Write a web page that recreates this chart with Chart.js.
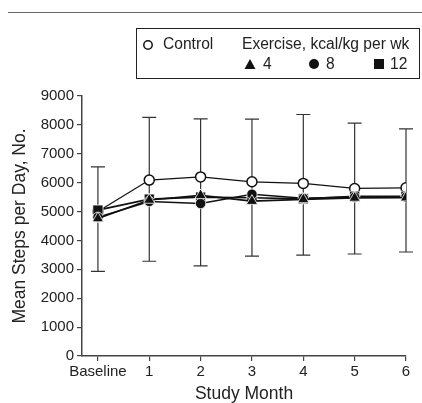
<!DOCTYPE html>
<html>
<head>
<meta charset="utf-8">
<script src="https://cdn.jsdelivr.net/npm/chart.js@4/dist/chart.umd.min.js"></script>
<style>
  body { margin: 0; background: #fff; font-family: "Liberation Sans", Arial, sans-serif; }
  .wrap { position: relative; width: 422px; height: 403px; }
  .rule { position: absolute; left: 8px; right: 0; top: 12px; height: 0; border-top: 1.5px solid #666; }
  .legend { position: absolute; left: 136px; top: 28px; width: 284px; height: 51px; border: 1px solid #222;
            box-sizing: border-box; font-size: 15.6px; color: #222; }
  .legend span { position: absolute; white-space: nowrap; line-height: 16px; }
  .legend svg { position: absolute; }
  canvas { position: absolute; left: 0; top: 0; }
</style>
</head>
<body>
<div class="wrap">
  <div class="rule"></div>
  <canvas id="chart" width="422" height="403"></canvas>
  <div class="legend">
    <svg style="left:5px;top:10px" width="12" height="12"><circle cx="6" cy="6" r="4.2" fill="#fff" stroke="#111" stroke-width="1.5"/></svg>
    <span style="left:26px;top:7px">Control</span>
    <span style="left:105px;top:7px">Exercise, kcal/kg per wk</span>
    <svg style="left:107px;top:29px" width="12" height="12"><polygon points="6,1 11.5,11 0.5,11" fill="#111"/></svg>
    <span style="left:126px;top:27px">4</span>
    <svg style="left:171px;top:29px" width="12" height="12"><circle cx="6" cy="6" r="5" fill="#111"/></svg>
    <span style="left:189px;top:27px">8</span>
    <svg style="left:236px;top:29px" width="12" height="12"><rect x="1" y="1" width="10" height="10" fill="#111"/></svg>
    <span style="left:253px;top:27px">12</span>
  </div>
</div>
<script>
const monthLabels = ['Baseline', '1', '2', '3', '4', '5', '6'];
const months = [0, 1, 2, 3, 4, 5, 6];
const controlSteps = [5000, 6090, 6200, 6030, 5975, 5800, 5820];
const ex4Steps = [4760, 5400, 5560, 5360, 5420, 5470, 5480];
const ex8Steps = [4800, 5350, 5280, 5600, 5460, 5500, 5500];
const ex12Steps = [5050, 5430, 5500, 5480, 5440, 5530, 5530];
const errHigh = [6550, 8260, 8210, 8200, 8360, 8060, 7860];
const errLow = [2930, 3280, 3120, 3460, 3490, 3530, 3600];
const yTicks = [0, 1000, 2000, 3000, 4000, 5000, 6000, 7000, 8000, 9000];

function toPoints(values) {
  return values.map((v, i) => ({ x: months[i], y: v }));
}

// error bars drawn behind the series
const errorBars = {
  id: 'errorBars',
  beforeDatasetsDraw(chart) {
    const { ctx, scales: { x, y } } = chart;
    ctx.save();
    ctx.strokeStyle = '#333';
    ctx.lineWidth = 1.2;
    months.forEach((m, i) => {
      const px = x.getPixelForValue(m);
      const top = y.getPixelForValue(errHigh[i]);
      const bot = y.getPixelForValue(errLow[i]);
      ctx.beginPath();
      ctx.moveTo(px, top); ctx.lineTo(px, bot);
      ctx.moveTo(px - 7, top); ctx.lineTo(px + 7, top);
      ctx.moveTo(px - 7, bot); ctx.lineTo(px + 7, bot);
      ctx.stroke();
    });
    ctx.restore();
  }
};

function filledSeries(label, values, style, radius) {
  return {
    label,
    data: toPoints(values),
    borderColor: '#111',
    borderWidth: 1.6,
    pointStyle: style,
    pointRadius: radius,
    pointBackgroundColor: '#111',
    pointBorderColor: '#fff',
    pointBorderWidth: 0.8,
    tension: 0
  };
}

const axisFont = { family: '"Liberation Sans", Arial, sans-serif', size: 15 };
const titleFont = { family: '"Liberation Sans", Arial, sans-serif', size: 17.5, lineHeight: 1 };

new Chart(document.getElementById('chart').getContext('2d'), {
  type: 'line',
  data: {
    datasets: [
      filledSeries('4', ex4Steps, 'triangle', 6.5),
      filledSeries('8', ex8Steps, 'circle', 5.2),
      filledSeries('12', ex12Steps, 'rect', 7.2),
      {
        label: 'Control',
        data: toPoints(controlSteps),
        borderColor: '#111',
        borderWidth: 1.3,
        pointStyle: 'circle',
        pointRadius: 5,
        pointBackgroundColor: '#fff',
        pointBorderColor: '#111',
        pointBorderWidth: 1.5,
        tension: 0
      }
    ]
  },
  options: {
    responsive: false,
    animation: false,
    layout: { padding: { top: 96, right: 16, left: 0, bottom: 0 } },
    plugins: { legend: { display: false }, tooltip: { enabled: false } },
    scales: {
      x: {
        type: 'linear',
        min: -0.31,
        max: 6,
        afterBuildTicks: scale => { scale.ticks = months.map(v => ({ value: v })); },
        afterFit: scale => { scale.height = 47; },
        grid: { display: true, drawOnChartArea: false, drawTicks: true, tickLength: 5, color: '#444', lineWidth: 1.2 },
        border: { display: true, color: '#444', width: 1.5 },
        ticks: { color: '#222', font: axisFont, padding: 2, maxRotation: 0, autoSkip: false,
                 callback: (v) => monthLabels[months.indexOf(v)] },
        title: { display: true, text: 'Study Month', color: '#222', font: titleFont, padding: { top: 0, bottom: 0 } }
      },
      y: {
        min: 0,
        max: 9000,
        afterBuildTicks: scale => { scale.ticks = yTicks.map(v => ({ value: v })); },
        afterFit: scale => { scale.width = 82; },
        grid: { display: true, drawOnChartArea: false, drawTicks: true, tickLength: 5, color: '#444', lineWidth: 1.2 },
        border: { display: true, color: '#444', width: 1.5 },
        ticks: { color: '#222', font: axisFont, padding: 3, callback: v => String(v) },
        title: { display: true, text: 'Mean Steps per Day, No.', color: '#222', font: titleFont, padding: { top: 11, bottom: 0 } }
      }
    }
  },
  plugins: [errorBars]
});
</script>
</body>
</html>
